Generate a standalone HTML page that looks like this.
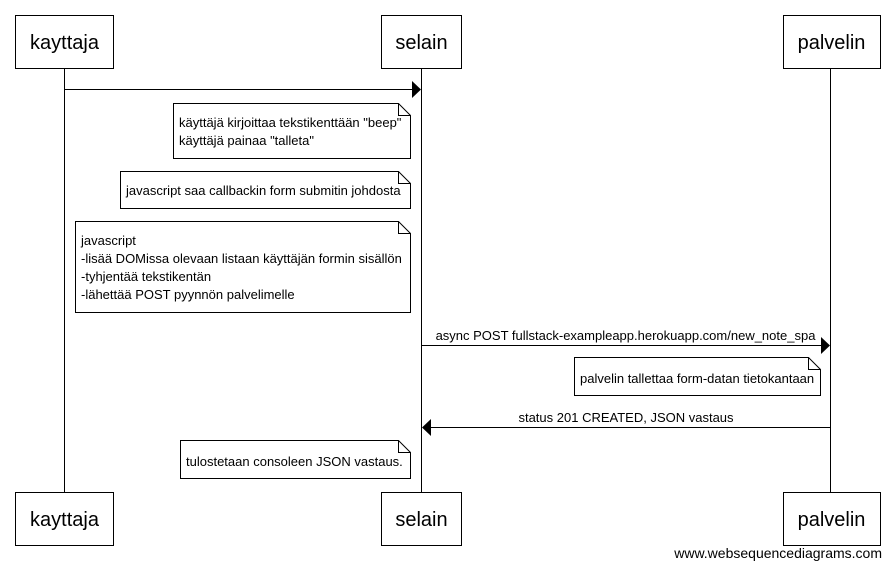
<!DOCTYPE html>
<html><head><meta charset="utf-8"><style>
body{margin:0;background:#fff;}
svg text{font-family:"Liberation Sans",sans-serif;fill:#000;}
</style></head><body>
<svg width="891" height="568" viewBox="0 0 891 568" xmlns="http://www.w3.org/2000/svg">
<g stroke="#000" stroke-width="1" fill="none">
<line x1="64.5" y1="68" x2="64.5" y2="492"/>
<line x1="421.5" y1="68" x2="421.5" y2="492"/>
<line x1="830.5" y1="68" x2="830.5" y2="492"/>
<rect x="15.5" y="15.5" width="98" height="53" fill="#fff"/>
<rect x="381.5" y="15.5" width="80" height="53" fill="#fff"/>
<rect x="783.5" y="15.5" width="97" height="53" fill="#fff"/>
<rect x="15.5" y="492.5" width="98" height="53" fill="#fff"/>
<rect x="381.5" y="492.5" width="80" height="53" fill="#fff"/>
<rect x="783.5" y="492.5" width="97" height="53" fill="#fff"/>
<line x1="65" y1="89.5" x2="412" y2="89.5"/>
<line x1="422" y1="345.5" x2="821" y2="345.5"/>
<line x1="430" y1="427.5" x2="830" y2="427.5"/>
<path d="M173.5 103.5 H398.5 L410.5 115.5 V158.5 H173.5 Z M398.5 103.5 V115.5 H410.5" fill="#fff"/>
<path d="M120.5 171.5 H398.5 L410.5 183.5 V208.5 H120.5 Z M398.5 171.5 V183.5 H410.5" fill="#fff"/>
<path d="M75.5 221.5 H398.5 L410.5 233.5 V312.5 H75.5 Z M398.5 221.5 V233.5 H410.5" fill="#fff"/>
<path d="M574.5 357.5 H808.5 L820.5 369.5 V395.5 H574.5 Z M808.5 357.5 V369.5 H820.5" fill="#fff"/>
<path d="M180.5 440.5 H398.5 L410.5 452.5 V478.5 H180.5 Z M398.5 440.5 V452.5 H410.5" fill="#fff"/>
</g>
<polygon points="412,81 421,89.5 412,98" fill="#000"/>
<polygon points="821,337 830,345.5 821,354" fill="#000"/>
<polygon points="431,419 422,427.5 431,436" fill="#000"/>
<g font-size="20" text-anchor="middle">
<text x="64.5" y="49">kayttaja</text>
<text x="421.5" y="49">selain</text>
<text x="831.5" y="49">palvelin</text>
<text x="64.5" y="526">kayttaja</text>
<text x="421.5" y="526">selain</text>
<text x="831.5" y="526">palvelin</text>
</g>
<g font-size="13">
<text x="179" y="127">käyttäjä kirjoittaa tekstikenttään "beep"</text>
<text x="179" y="145">käyttäjä painaa "talleta"</text>
<text x="126" y="195">javascript saa callbackin form submitin johdosta</text>
<text x="81" y="245">javascript</text>
<text x="81" y="263">-lisää DOMissa olevaan listaan käyttäjän formin sisällön</text>
<text x="81" y="281">-tyhjentää tekstikentän</text>
<text x="81" y="299">-lähettää POST pyynnön palvelimelle</text>
<text x="580" y="383">palvelin tallettaa form-datan tietokantaan</text>
<text x="186" y="466">tulostetaan consoleen JSON vastaus.</text>
<text x="625.5" y="340" text-anchor="middle">async POST fullstack-exampleapp.herokuapp.com/new_note_spa</text>
<text x="626" y="422" text-anchor="middle">status 201 CREATED, JSON vastaus</text>
<text x="882" y="558" text-anchor="end" font-size="14">www.websequencediagrams.com</text>
</g>
</svg>
</body></html>
